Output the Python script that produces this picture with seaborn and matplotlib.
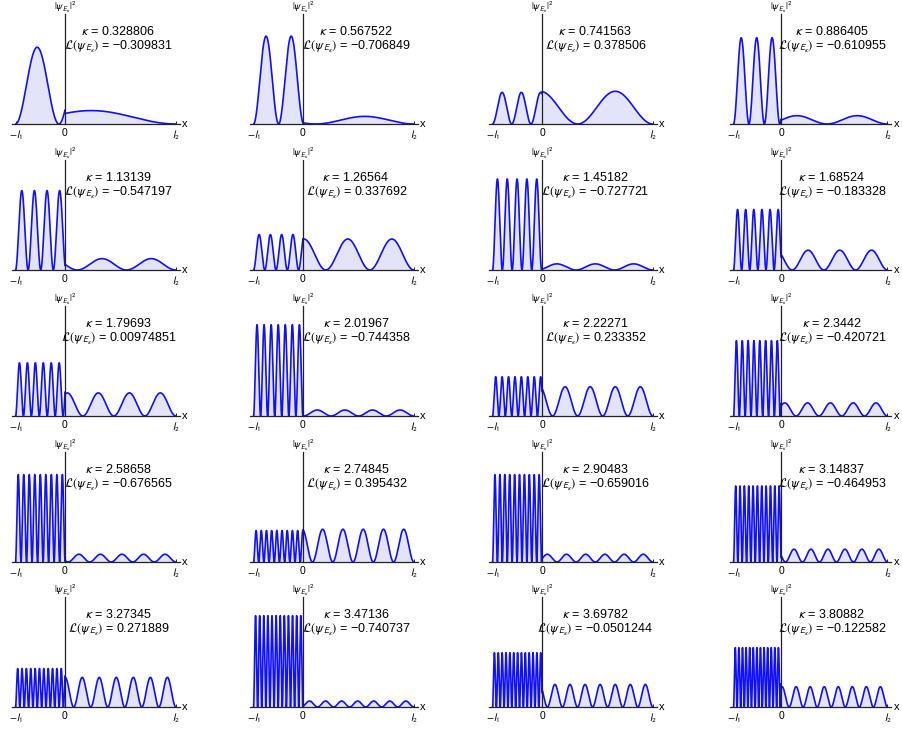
import numpy as np
import pandas as pd
import matplotlib
matplotlib.use("Agg")
import matplotlib.pyplot as plt
import seaborn as sns

# Eigenvalues kappa and the localisation measure L(psi) of each eigenstate
kappa = [0.328806, 0.567522, 0.741563, 0.886405, 1.13139,
         1.26564, 1.45182, 1.68524, 1.79693, 2.01967,
         2.22271, 2.3442, 2.58658, 2.74845, 2.90483,
         3.14837, 3.27345, 3.47136, 3.69782, 3.80882]
kappa_text = ["0.328806", "0.567522", "0.741563", "0.886405", "1.13139",
              "1.26564", "1.45182", "1.68524", "1.79693", "2.01967",
              "2.22271", "2.3442", "2.58658", "2.74845", "2.90483",
              "3.14837", "3.27345", "3.47136", "3.69782", "3.80882"]
loc_measure = [-0.309831, -0.706849, 0.378506, -0.610955, -0.547197,
               0.337692, -0.727721, -0.183328, 0.00974851, -0.744358,
               0.233352, -0.420721, -0.676565, 0.395432, -0.659016,
               -0.464953, 0.271889, -0.740737, -0.0501244, -0.122582]
loc_text = ["\u22120.309831", "\u22120.706849", "0.378506", "\u22120.610955", "\u22120.547197",
            "0.337692", "\u22120.727721", "\u22120.183328", "0.00974851", "\u22120.744358",
            "0.233352", "\u22120.420721", "\u22120.676565", "0.395432", "\u22120.659016",
            "\u22120.464953", "0.271889", "\u22120.740737", "\u22120.0501244", "\u22120.122582"]

# Edge lengths (left edge [-l1, 0], right edge [0, l2]) and phase per unit kappa on each edge
l1, l2 = 1.0, 2.24
phase_left, phase_right = 10.9, 6.25

sns.set_theme(style="white")
plt.rcParams["font.family"] = ["Liberation Sans", "DejaVu Sans"]
plt.rcParams["mathtext.fontset"] = "stixsans"
plt.rcParams["text.color"] = "black"

W, H = 902, 731
fig = plt.figure(figsize=(W / 100, H / 100), dpi=100)

zero_px = [65, 303, 542, 781]
ppu_col = [49.5, 49.5, 49.5, 47.5]
base_px = [124, 270, 416, 562, 707]
xlim = (-1.08, 2.32)
ax_h = 110
ytop = 2.18 * ax_h / 114

line_col = "#1010ff"
fill_col = "#e4e4f9"
axis_col = "#222222"

for i, (k, lv) in enumerate(zip(kappa, loc_measure)):
    r, c = divmod(i, 4)
    ppu = ppu_col[c]
    left_px = zero_px[c] + xlim[0] * ppu
    width_px = (xlim[1] - xlim[0]) * ppu
    ax = fig.add_axes([left_px / W, 1 - base_px[r] / H, width_px / W, ax_h / H])
    ax.set_facecolor("none")

    xl = np.linspace(-l1, 0, 800)
    xr = np.linspace(0, l2, 1600)
    sl = np.sin(phase_left * k * (xl + l1) / l1) ** 2
    sr = np.sin(phase_right * k * (l2 - xr) / l2) ** 2
    p_left = (1 - lv) / 2
    p_right = (1 + lv) / 2
    yl = p_left * sl / np.trapezoid(sl, xl)
    yr = p_right * sr / np.trapezoid(sr, xr)

    ax.fill_between(xl, 0, yl, color=fill_col, lw=0)
    ax.fill_between(xr, 0, yr, color=fill_col, lw=0)
    dl = pd.DataFrame({"x": xl, "psi2": yl})
    dr = pd.DataFrame({"x": xr, "psi2": yr})
    sns.lineplot(data=dl, x="x", y="psi2", ax=ax, color=line_col, lw=1.2,
                 estimator=None, sort=False)
    sns.lineplot(data=dr, x="x", y="psi2", ax=ax, color=line_col, lw=1.2,
                 estimator=None, sort=False)

    ax.set_xlim(*xlim)
    ax.set_ylim(0, ytop)
    ax.set_xlabel("")
    ax.set_ylabel("")
    for s in ["top", "right"]:
        ax.spines[s].set_visible(False)
    ax.spines["left"].set_position(("data", 0))
    ax.spines["left"].set_color(axis_col)
    ax.spines["bottom"].set_color(axis_col)
    ax.spines["left"].set_linewidth(0.9)
    ax.spines["bottom"].set_linewidth(0.9)
    ax.set_yticks([])
    ax.set_xticks([-l1, 0, l2])
    ax.set_xticklabels([r"$-l_1$", "0", r"$l_2$"], fontsize=7.5, color="black")
    ax.tick_params(axis="x", length=2.5, width=0.7, direction="in",
                   color=axis_col, pad=3, bottom=True)

    ax.text(xlim[1] + 0.05, 0, "x", fontsize=8, ha="left", va="center",
            clip_on=False)
    ax.text(0, ytop, r"$|\psi_{E_\kappa}|^2$", fontsize=7,
            ha="center", va="bottom", clip_on=False)
    ax.text(1.07, 1.76, r"$\kappa$ = " + kappa_text[i], fontsize=9,
            ha="center", va="center")
    ax.text(1.08, 1.47, r"$\mathcal{L}(\psi_{E_\kappa})$ = " + loc_text[i],
            fontsize=9, ha="center", va="center")

fig.savefig("out.png", dpi=100)
